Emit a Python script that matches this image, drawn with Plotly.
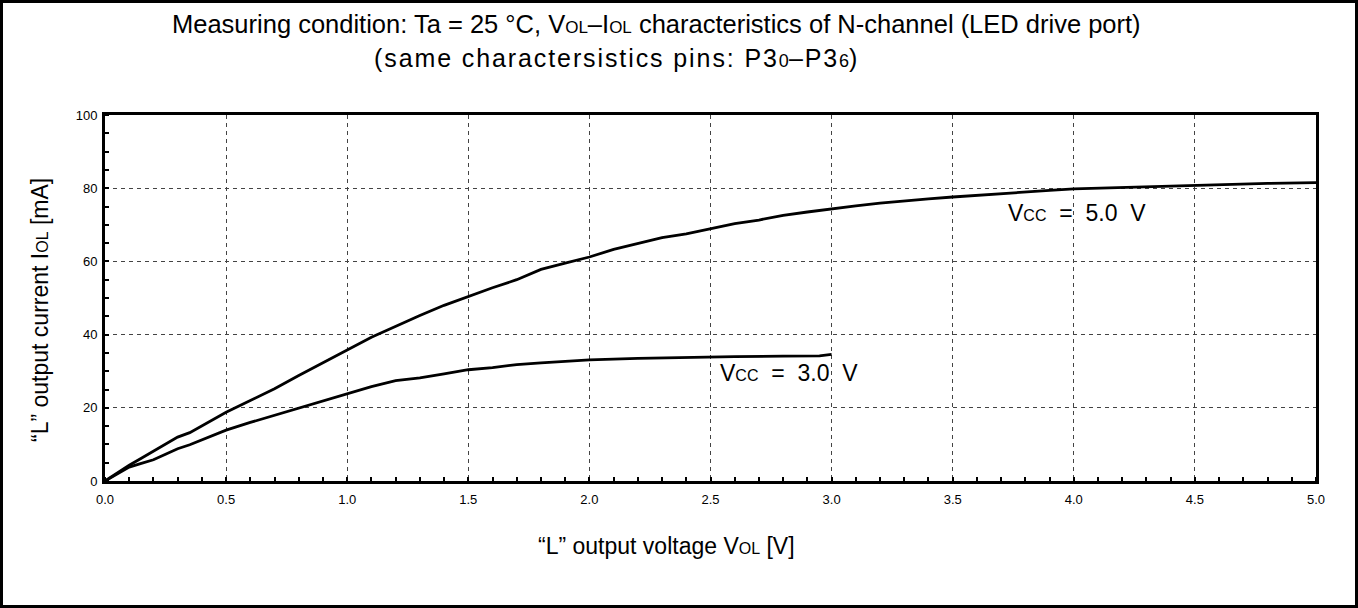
import plotly.graph_objects as go

# Vcc = 5.0 V curve
v5 = [0.0, 0.05, 0.1, 0.15, 0.2, 0.25, 0.3, 0.35, 0.4, 0.45, 0.5, 0.6, 0.7, 0.8, 0.9, 1.0, 1.1, 1.2, 1.3, 1.4,
      1.5, 1.6, 1.7, 1.8, 1.9, 2.0, 2.1, 2.2, 2.3, 2.4, 2.5, 2.6, 2.7, 2.8, 2.9, 3.0, 3.1, 3.2, 3.3, 3.4,
      3.5, 3.6, 3.7, 3.8, 3.9, 4.0, 4.2, 4.4, 4.6, 4.8, 5.0]
i5 = [0.0, 2.2, 4.3, 6.2, 8.2, 10.0, 12.0, 13.2, 15.0, 16.8, 18.8, 22.0, 25.2, 28.8, 32.2, 35.8, 39.3, 42.3, 45.2, 48.0,
      50.5, 52.8, 55.0, 57.8, 59.5, 61.2, 63.3, 65.0, 66.5, 67.5, 69.0, 70.3, 71.3, 72.6, 73.5, 74.4, 75.2, 75.9, 76.6, 77.1,
      77.6, 78.1, 78.6, 79.0, 79.4, 79.8, 80.2, 80.6, 81.0, 81.3, 81.5]

# Vcc = 3.0 V curve
v3 = [0.0, 0.05, 0.1, 0.15, 0.2, 0.25, 0.3, 0.35, 0.4, 0.45, 0.5, 0.6, 0.7, 0.8, 0.9, 1.0, 1.1, 1.2, 1.3, 1.4,
      1.5, 1.6, 1.7, 1.8, 1.9, 2.0, 2.2, 2.4, 2.6, 2.8, 2.95, 3.0]
i3 = [0.0, 2.0, 3.8, 4.8, 5.8, 7.3, 8.8, 9.9, 11.2, 12.4, 13.9, 16.0, 18.0, 20.0, 22.0, 24.0, 25.8, 27.4, 28.2, 29.3,
      30.4, 31.0, 31.8, 32.3, 32.7, 33.1, 33.5, 33.8, 34.0, 34.1, 34.2, 34.6]

x_ticks = [0.0, 0.5, 1.0, 1.5, 2.0, 2.5, 3.0, 3.5, 4.0, 4.5, 5.0]
y_ticks = [0, 20, 40, 60, 80, 100]

FONT = "Arial, Liberation Sans, sans-serif"


def sm(t, size):
    return f"<span style='font-size:{size}px'>{t}</span>"


fig = go.Figure()
fig.add_trace(go.Scatter(x=v5, y=i5, mode="lines", line=dict(color="black", width=2.8), showlegend=False))
fig.add_trace(go.Scatter(x=v3, y=i3, mode="lines", line=dict(color="black", width=2.8), showlegend=False))

L, R, T, B = 105, 42, 115, 127
W, H = 1358, 608
pw, ph = W - L - R, H - T - B


def px(x):
    return (x - L) / pw


def py(y):
    return (H - B - y) / ph


axis_common = dict(showline=True, linecolor="black", linewidth=3, mirror=True,
                   showgrid=True, gridcolor="#444", gridwidth=1, griddash="4px,4px",
                   zeroline=False, ticks="", tickfont=dict(family=FONT, size=13, color="black"))

fig.update_layout(
    width=W, height=H,
    margin=dict(l=L, r=R, t=T, b=B),
    paper_bgcolor="white", plot_bgcolor="white",
    font=dict(family=FONT, color="black"),
    xaxis=dict(range=[0, 5], tickvals=x_ticks, ticktext=[f"{v:.1f}" for v in x_ticks], ticklabelstandoff=4,
               minor=dict(ticks="inside", dtick=0.1, tick0=0, ticklen=4, tickcolor="black", tickwidth=1.5, showgrid=False),
               **axis_common),
    yaxis=dict(range=[0, 100], tickvals=y_ticks, ticklabelstandoff=2,
               minor=dict(ticks="inside", dtick=5, tick0=0, ticklen=4, tickcolor="black", tickwidth=1.5, showgrid=False),
               **axis_common),
)

# outer border
fig.add_shape(type="rect", xref="paper", yref="paper",
              x0=px(1.5), x1=px(W - 1.5), y0=py(H - 1.5), y1=py(1.5),
              line=dict(color="black", width=3))

# axis titles
fig.add_annotation(xref="paper", yref="paper", x=px(666), y=py(546), showarrow=False,
                   text="“L” output voltage V" + sm("OL", 16) + " [V]",
                   font=dict(family=FONT, size=23), xanchor="center", yanchor="middle")
fig.add_annotation(xref="paper", yref="paper", x=px(40), y=py(310), showarrow=False, textangle=-90,
                   text="“L” output current I" + sm("OL", 16) + " [mA]",
                   font=dict(family=FONT, size=23), xanchor="center", yanchor="middle")

# titles
fig.add_annotation(xref="paper", yref="paper", x=px(656), y=py(24), showarrow=False,
                   text="Measuring condition: Ta = 25 °C, V" + sm("OL", 17) + "–I" + sm("OL", 17)
                        + " characteristics of N-channel (LED drive port)",
                   font=dict(family=FONT, size=25.5), xanchor="center", yanchor="middle")
fig.add_annotation(xref="paper", yref="paper", x=px(615), y=py(58), showarrow=False,
                   text="<span style='letter-spacing:1.9px'>(same charactersistics pins: P3</span>" + sm("0", 18)
                        + "<span style='letter-spacing:1.9px'>–P3</span>" + sm("6", 18) + ")",
                   font=dict(family=FONT, size=25), xanchor="center", yanchor="middle")

# curve labels
fig.add_annotation(x=2.53, y=29.5, xref="x", yref="y", showarrow=False, xanchor="left", yanchor="middle",
                   text="V" + sm("CC", 16) + "  =  3.0  V", font=dict(family=FONT, size=23))
fig.add_annotation(x=3.72, y=73.2, xref="x", yref="y", showarrow=False, xanchor="left", yanchor="middle",
                   text="V" + sm("CC", 16) + "  =  5.0  V", font=dict(family=FONT, size=23))

fig.write_html("out.html", config={"displayModeBar": False},
               post_script="document.body.style.margin='0';document.body.style.overflow='hidden';")
